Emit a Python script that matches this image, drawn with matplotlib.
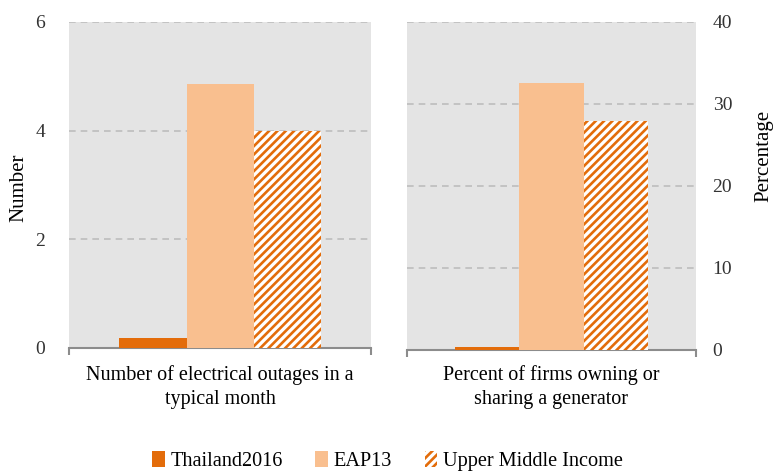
import numpy as np
import matplotlib
matplotlib.use("Agg")
import matplotlib.pyplot as plt
from matplotlib.patches import Patch

plt.rcParams['font.family'] = ['Liberation Serif', 'DejaVu Serif']
plt.rcParams['hatch.linewidth'] = 1.9

series = ["Thailand2016", "EAP13", "Upper Middle Income"]
outages = [0.18, 4.85, 4.0]
generator = [0.3, 32.6, 27.9]
categories = ["Number of electrical outages in a\ntypical month",
              "Percent of firms owning or\nsharing a generator"]

dark = "#E36C0A"
light = "#F9BF8F"
bg = "#E4E4E4"
grid_c = "#BDBDBD"

fig = plt.figure(figsize=(7.75, 4.76), dpi=100)
ax1 = fig.add_axes([0.089, 0.269, 0.390, 0.685])
ax2 = fig.add_axes([0.525, 0.265, 0.373, 0.689])

width = 2 / 9
offsets = np.array([-1, 0, 1]) * width


def draw(ax, vals, ymax, step):
    ax.set_facecolor(bg)
    ax.bar(offsets[0], vals[0], width, color=dark, linewidth=0, zorder=3)
    ax.bar(offsets[1], vals[1], width, color=light, linewidth=0, zorder=3)
    ax.bar(offsets[2], vals[2], width, color="white", edgecolor=dark,
           hatch="////", linewidth=0, zorder=3)
    ax.set_xlim(-0.5, 0.5)
    ax.set_ylim(0, ymax)
    ax.set_yticks(np.arange(0, ymax + step, step))
    for t in np.arange(step, ymax + step, step):
        ax.axhline(t, color=grid_c, linestyle=(0, (4, 3)), linewidth=1.2, zorder=1)
    for s in ["top", "left", "right"]:
        ax.spines[s].set_visible(False)
    ax.spines["bottom"].set_color("#8C8C8C")
    ax.spines["bottom"].set_linewidth(1.5)
    ax.set_xticks([-0.5, 0.5])
    ax.set_xticklabels(["", ""])
    ax.tick_params(axis="x", direction="out", length=5, color="#8C8C8C", width=1.5)
    ax.tick_params(axis="y", length=0, labelsize=14, colors="#333333")


draw(ax1, outages, 6, 2)
draw(ax2, generator, 40, 10)
ax1.tick_params(axis="y", pad=17)
ax1.set_ylabel("Number", fontsize=15)
ax1.yaxis.set_label_coords(-0.135, 0.49)
ax2.yaxis.tick_right()
ax2.yaxis.set_label_position("right")
ax2.tick_params(axis="y", pad=12)
ax2.set_ylabel("Percentage", fontsize=15, rotation=90, va="center")
ax2.yaxis.set_label_coords(1.235, 0.59)

fig.text(0.284, 0.232, categories[0], ha="center", va="top", fontsize=14.5, linespacing=1.3)
fig.text(0.711, 0.232, categories[1], ha="center", va="top", fontsize=14.5, linespacing=1.3)

handles = [Patch(facecolor=dark, linewidth=0),
           Patch(facecolor=light, linewidth=0),
           Patch(facecolor="white", edgecolor=dark, hatch="////", linewidth=0)]
fig.legend(handles, series, loc="lower center", bbox_to_anchor=(0.5, -0.028), ncol=3,
           frameon=False, fontsize=14.6, handlelength=0.6, handleheight=0.8,
           handletextpad=0.3, columnspacing=1.6)

fig.savefig("out.png", dpi=100)
